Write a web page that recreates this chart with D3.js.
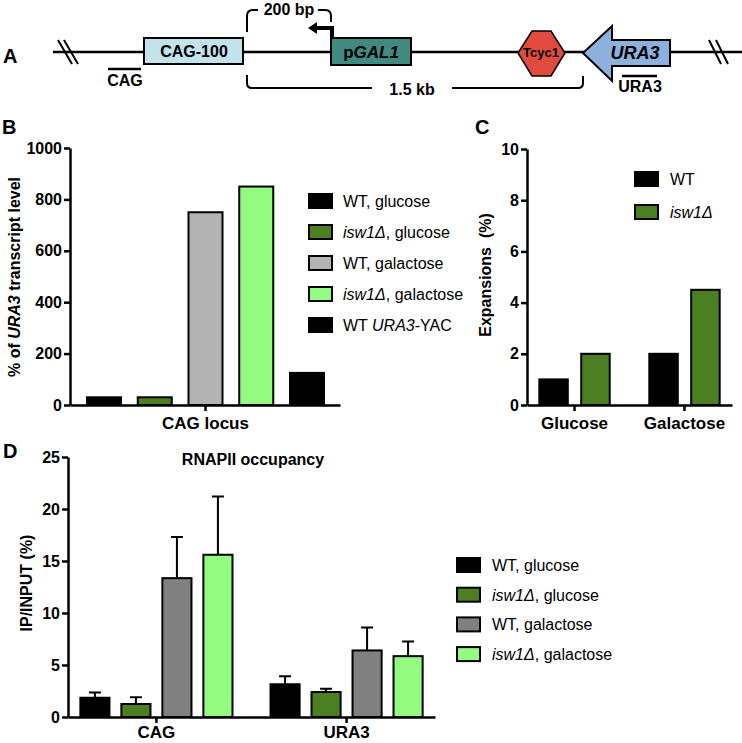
<!DOCTYPE html>
<html>
<head>
<meta charset="utf-8">
<script src="https://cdn.jsdelivr.net/npm/d3@7"></script>
<style>
  body { margin: 0; background: #fff; }
  svg { font-family: "Liberation Sans", Arial, sans-serif; }
</style>
</head>
<body>
<div id="chart"></div>
<script>
// Panel B: transcript level
var bCategories = ["WT, glucose", "isw1Δ, glucose", "WT, galactose", "isw1Δ, galactose", "WT URA3-YAC"];
var bValues = [30, 30, 750, 850, 125];
var bTicks = [0, 200, 400, 600, 800, 1000];
var bColors = ["#000000", "#4b7f22", "#b3b3b3", "#93fb80", "#000000"];

// Panel C: expansions
var cGroups = ["Glucose", "Galactose"];
var cSeries = ["WT", "isw1Δ"];
var cWT = [1, 2];
var cIsw1 = [2, 4.5];
var cTicks = [0, 2, 4, 6, 8, 10];
var cColors = ["#000000", "#4b7f22"];

// Panel D: RNAPII occupancy
var dGroups = ["CAG", "URA3"];
var dSeries = ["WT, glucose", "isw1Δ, glucose", "WT, galactose", "isw1Δ, galactose"];
var dMeans = [[1.85, 3.15], [1.25, 2.4], [13.35, 6.4], [15.6, 5.85]];
var dErrors = [[0.5, 0.77], [0.65, 0.32], [3.95, 2.2], [5.6, 1.4]];
var dTicks = [0, 5, 10, 15, 20, 25];
var dColors = ["#000000", "#4b7f22", "#808080", "#93fb80"];

var svg = d3.select("#chart").append("svg")
    .attr("width", 742)
    .attr("height", 743);

// italic helper for gene names
function richText(sel, label) {
    var parts = label.split(/(isw1Δ|URA3|GAL1)/);
    parts.forEach(function(p) {
        if (p === "") return;
        var t = sel.append("tspan").text(p);
        if (p === "isw1Δ" || p === "URA3" || p === "GAL1") t.style("font-style", "italic");
    });
}

function styleAxis(g, size) {
    g.select(".domain").attr("stroke-width", 2.5);
    g.selectAll(".tick line").attr("stroke-width", 2.5);
    g.selectAll(".tick text")
        .attr("font-family", "Liberation Sans, Arial, sans-serif")
        .attr("font-weight", "bold")
        .attr("font-size", size)
        .attr("fill", "#000");
}

function panelLabel(txt, x, y) {
    svg.append("text").attr("x", x).attr("y", y).text(txt)
        .attr("font-size", 20).attr("font-weight", "bold");
}

// ---------- Panel A: schematic ----------
panelLabel("A", 3, 63);
var a = svg.append("g").attr("stroke", "#000");
a.append("line").attr("x1", 53).attr("x2", 742).attr("y1", 52).attr("y2", 52).attr("stroke-width", 2.5);
// break marks
[[58, 72], [64, 78], [709, 721], [716, 728]].forEach(function(h) {
    a.append("line").attr("x1", h[0]).attr("y1", 40).attr("x2", h[1]).attr("y2", 64).attr("stroke-width", 2);
});
a.append("rect").attr("x", 144).attr("y", 38).attr("width", 99).attr("height", 26)
    .attr("fill", "#c2e2ec").attr("stroke-width", 2);
a.append("rect").attr("x", 331).attr("y", 38).attr("width", 80).attr("height", 27)
    .attr("fill", "#408a82").attr("stroke-width", 2);
a.append("polygon").attr("points", "518,53 532,31 551,31 565,53 551,76 532,76")
    .attr("fill", "#e14b3e").attr("stroke-width", 1.5);
a.append("polygon").attr("points", "583,53 612,26 612,40 670,40 670,66 612,66 612,81")
    .attr("fill", "#8db1dd").attr("stroke-width", 2);
// brackets
a.append("path").attr("d", "M247,32 L247,16 Q247,10 253,10 L258,10").attr("fill", "none").attr("stroke-width", 2);
a.append("path").attr("d", "M318,10 L325,10 Q331,10 331,16 L331,22").attr("fill", "none").attr("stroke-width", 2);
a.append("path").attr("d", "M332,38 L332,28 L316,28").attr("fill", "none").attr("stroke-width", 4);
a.append("polygon").attr("points", "317,22 308,28 317,34").attr("fill", "#000").attr("stroke", "none");
a.append("path").attr("d", "M247,75 L247,83 Q247,88 252,88 L372,88").attr("fill", "none").attr("stroke-width", 2);
a.append("path").attr("d", "M452,88 L578,88 Q583,88 583,83 L583,76").attr("fill", "none").attr("stroke-width", 2);
// probe bars
a.append("line").attr("x1", 108).attr("x2", 141).attr("y1", 69).attr("y2", 69).attr("stroke-width", 2.5);
a.append("line").attr("x1", 622).attr("x2", 657).attr("y1", 76).attr("y2", 76).attr("stroke-width", 2.5);

var aText = svg.append("g").attr("font-weight", "bold").attr("text-anchor", "middle");
aText.append("text").attr("x", 194).attr("y", 57).attr("font-size", 16).text("CAG-100");
richText(aText.append("text").attr("x", 371).attr("y", 58).attr("font-size", 17), "pGAL1");
aText.append("text").attr("x", 541).attr("y", 57).attr("font-size", 13).text("Tcyc1");
richText(aText.append("text").attr("x", 635).attr("y", 59).attr("font-size", 18), "URA3");
aText.append("text").attr("x", 289).attr("y", 15).attr("font-size", 16).text("200 bp");
aText.append("text").attr("x", 412).attr("y", 95).attr("font-size", 16).text("1.5 kb");
aText.append("text").attr("x", 125).attr("y", 86).attr("font-size", 16).text("CAG");
aText.append("text").attr("x", 640).attr("y", 92).attr("font-size", 16).text("URA3");

// ---------- Panel B ----------
panelLabel("B", 2, 134);
var bx = d3.scaleBand().domain(bCategories).range([70, 341]).paddingInner(0.33).paddingOuter(0.335);
var by = d3.scaleLinear().domain([0, 1000]).range([405, 148]);

svg.selectAll("rect.bbar").data(bCategories).enter().append("rect")
    .attr("class", "bbar")
    .attr("x", function(d) { return bx(d); })
    .attr("width", bx.bandwidth())
    .attr("y", function(d, i) { return by(bValues[i]); })
    .attr("height", function(d, i) { return by(0) - by(bValues[i]); })
    .attr("fill", function(d, i) { return bColors[i]; })
    .attr("stroke", "#000").attr("stroke-width", 2);

var bYAxis = svg.append("g").attr("transform", "translate(70,0)")
    .call(d3.axisLeft(by).tickValues(bTicks).tickFormat(d3.format("d"))
        .tickSize(6).tickSizeOuter(0).tickPadding(2));
styleAxis(bYAxis, 16);
var bXScale = d3.scalePoint().domain(["CAG locus"]).range([70, 340]).padding(0.5);
var bXAxis = svg.append("g").attr("transform", "translate(0,405)")
    .call(d3.axisBottom(bXScale).tickSize(6).tickSizeOuter(0).tickPadding(6));
styleAxis(bXAxis, 17);

richText(svg.append("text")
    .attr("transform", "translate(20,277) rotate(-90)")
    .attr("text-anchor", "middle").attr("font-weight", "bold").attr("font-size", 16),
    "% of URA3 transcript level");

var bLeg = svg.append("g");
bCategories.forEach(function(c, i) {
    var yy = 201 + i * 31;
    bLeg.append("rect").attr("x", 309).attr("y", yy - 7).attr("width", 23).attr("height", 14)
        .attr("fill", bColors[i]).attr("stroke", "#000").attr("stroke-width", 2);
    richText(bLeg.append("text").attr("x", 343).attr("y", yy + 6).attr("font-size", 16), c);
});

// ---------- Panel C ----------
panelLabel("C", 475, 134);
var cx0 = d3.scaleBand().domain(cGroups).range([527, 732]).paddingInner(0.2).paddingOuter(0.032);
var cx1 = d3.scaleBand().domain(cSeries).range([0, cx0.bandwidth()]).paddingInner(0.32).paddingOuter(0.21);
var cy = d3.scaleLinear().domain([0, 10]).range([405, 149]);
var cVals = [cWT, cIsw1];

cGroups.forEach(function(g, gi) {
    svg.selectAll(null).data(cSeries).enter().append("rect")
        .attr("x", function(s) { return cx0(g) + cx1(s); })
        .attr("width", cx1.bandwidth())
        .attr("y", function(s, si) { return cy(cVals[si][gi]); })
        .attr("height", function(s, si) { return cy(0) - cy(cVals[si][gi]); })
        .attr("fill", function(s, si) { return cColors[si]; })
        .attr("stroke", "#000").attr("stroke-width", 2);
});

var cYAxis = svg.append("g").attr("transform", "translate(527,0)")
    .call(d3.axisLeft(cy).tickValues(cTicks).tickSize(6).tickSizeOuter(0).tickPadding(2));
styleAxis(cYAxis, 16);
var cXAxis = svg.append("g").attr("transform", "translate(0,405)")
    .call(d3.axisBottom(cx0).tickSize(6).tickSizeOuter(0).tickPadding(6));
styleAxis(cXAxis, 17);

svg.append("text")
    .attr("transform", "translate(491,275) rotate(-90)")
    .attr("text-anchor", "middle").attr("font-weight", "bold").attr("font-size", 16)
    .attr("xml:space", "preserve")
    .text("Expansions  (%)");

var cLeg = svg.append("g");
cSeries.forEach(function(s, i) {
    var yy = 179 + i * 33;
    cLeg.append("rect").attr("x", 635).attr("y", yy - 7).attr("width", 23).attr("height", 14)
        .attr("fill", cColors[i]).attr("stroke", "#000").attr("stroke-width", 2);
    richText(cLeg.append("text").attr("x", 670).attr("y", yy + 6).attr("font-size", 16), s);
});

// ---------- Panel D ----------
panelLabel("D", 3, 458);
var dx0 = d3.scaleBand().domain(dGroups).range([68, 435]).paddingInner(0.2).paddingOuter(0.065);
var dx1 = d3.scaleBand().domain(dSeries).range([0, dx0.bandwidth()]).paddingInner(0.29);
var dy = d3.scaleLinear().domain([0, 25]).range([717, 457]);

dGroups.forEach(function(g, gi) {
    var grp = svg.append("g");
    // error bars (upper only)
    grp.selectAll("path.err").data(dSeries).enter().append("path")
        .attr("class", "err")
        .attr("d", function(s, si) {
            var cxp = dx0(g) + dx1(s) + dx1.bandwidth() / 2;
            var top = dy(dMeans[si][gi] + dErrors[si][gi]);
            return "M" + cxp + "," + dy(dMeans[si][gi]) + "V" + top +
                "M" + (cxp - 6) + "," + top + "H" + (cxp + 6);
        })
        .attr("stroke", "#000").attr("stroke-width", 2).attr("fill", "none");
    grp.selectAll("rect").data(dSeries).enter().append("rect")
        .attr("x", function(s) { return dx0(g) + dx1(s); })
        .attr("width", dx1.bandwidth())
        .attr("y", function(s, si) { return dy(dMeans[si][gi]); })
        .attr("height", function(s, si) { return dy(0) - dy(dMeans[si][gi]); })
        .attr("fill", function(s, si) { return dColors[si]; })
        .attr("stroke", "#000").attr("stroke-width", 2);
});

var dYAxis = svg.append("g").attr("transform", "translate(68,0)")
    .call(d3.axisLeft(dy).tickValues(dTicks).tickSize(6).tickSizeOuter(0).tickPadding(2));
styleAxis(dYAxis, 16);
var dXAxis = svg.append("g").attr("transform", "translate(0,717)")
    .call(d3.axisBottom(dx0).tickSize(6).tickSizeOuter(0).tickPadding(3));
styleAxis(dXAxis, 17);

svg.append("text")
    .attr("transform", "translate(32,583) rotate(-90)")
    .attr("text-anchor", "middle").attr("font-weight", "bold").attr("font-size", 16)
    .text("IP/INPUT (%)");
svg.append("text").attr("x", 253).attr("y", 465)
    .attr("text-anchor", "middle").attr("font-weight", "bold").attr("font-size", 16)
    .text("RNAPII occupancy");

var dLeg = svg.append("g");
dSeries.forEach(function(s, i) {
    var yy = 565 + i * 29.7;
    dLeg.append("rect").attr("x", 457).attr("y", yy - 7).attr("width", 23).attr("height", 14)
        .attr("fill", dColors[i]).attr("stroke", "#000").attr("stroke-width", 2);
    richText(dLeg.append("text").attr("x", 492).attr("y", yy + 6).attr("font-size", 16), s);
});
</script>
</body>
</html>
